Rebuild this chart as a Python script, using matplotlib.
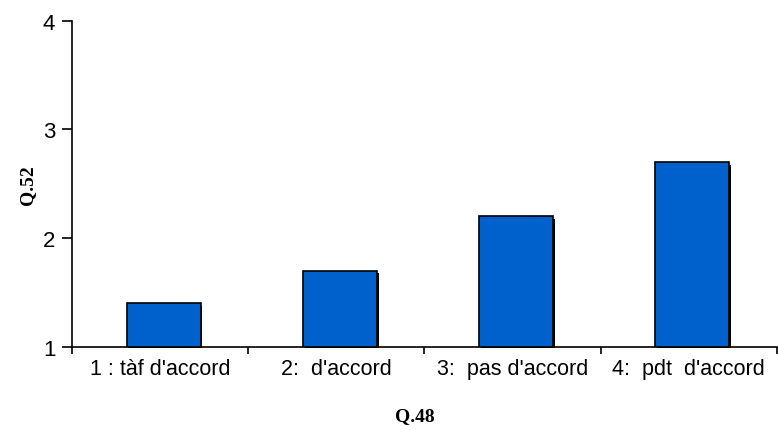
import numpy as np
import matplotlib
matplotlib.use('Agg')
import matplotlib.pyplot as plt

# donnees
categories = ["1 : tàf d'accord", "2:  d'accord", "3:  pas d'accord", "4:  pdt  d'accord"]
values = [1.4, 1.7, 2.2, 2.7]

fig = plt.figure(figsize=(7.78, 4.31), dpi=100)
ax = fig.add_axes([0.0925, 0.1926, 0.906, 0.757])

x = np.arange(len(categories)) + 0.5
base = 1.0
w = 0.42
heights = [v - base for v in values]

# ombre a droite des barres
ax.bar(x + 0.03, [h - 0.012 for h in heights], width=w, bottom=base - 0.012,
       color='black', edgecolor='none', zorder=2, clip_on=False)
ax.bar(x + 0.02, heights, width=w, bottom=base, color='#0060CC',
       edgecolor='black', linewidth=1.2, zorder=3)

ax.set_xlim(0, 4)
ax.set_ylim(1, 4)
ax.set_yticks([1, 2, 3, 4])
ax.set_xticks([0, 1, 2, 3, 4])
ax.set_xticklabels([])
ax.set_xticks(x, minor=True)
ax.set_xticklabels(categories, minor=True, fontsize=15.5, family='Liberation Sans')
ax.tick_params(axis='x', which='minor', length=0, pad=8)
ax.tick_params(axis='x', which='major', length=5, width=1.2, direction='out')
ax.tick_params(axis='y', length=7, width=1.2, direction='out', pad=5)
for lab in ax.get_yticklabels():
    lab.set_fontsize(16)
    lab.set_family('Liberation Sans')

for s in ['top', 'right']:
    ax.spines[s].set_visible(False)
ax.spines['left'].set_linewidth(1.2)
ax.spines['bottom'].set_linewidth(1.2)

ax.set_xlabel('Q.48', fontsize=14, fontweight='bold', family='Liberation Serif')
ax.xaxis.set_label_coords(0.4862, -0.185)
ax.set_ylabel('Q.52', fontsize=14, fontweight='bold', family='Liberation Serif', labelpad=5)

fig.savefig('out.png', dpi=100)
